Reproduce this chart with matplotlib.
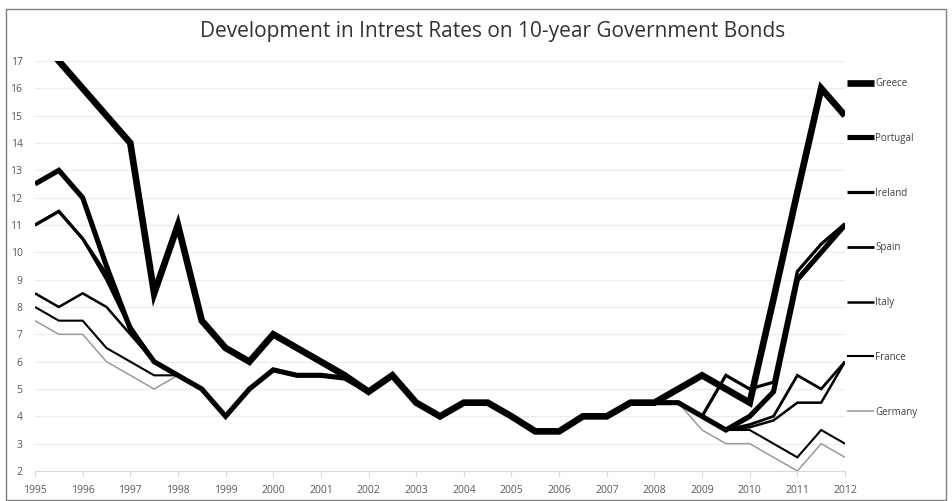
import matplotlib
matplotlib.use("Agg")
import matplotlib.pyplot as plt
from matplotlib.patches import Rectangle

# halbjaehrliche Stuetzstellen
years = [1995, 1995.5, 1996, 1996.5, 1997, 1997.5, 1998, 1998.5, 1999, 1999.5,
         2000, 2000.5, 2001, 2001.5, 2002, 2002.5, 2003, 2003.5, 2004, 2004.5,
         2005, 2005.5, 2006, 2006.5, 2007, 2007.5, 2008, 2008.5, 2009, 2009.5,
         2010, 2010.5, 2011, 2011.5, 2012]

greece = [18.0, 17.0, 16.0, 15.0, 14.0, 8.5, 11.0, 7.5, 6.5, 6.0,
          7.0, 6.5, 6.0, 5.5, 4.9, 5.5, 4.5, 4.0, 4.5, 4.5,
          4.0, 3.45, 3.45, 4.0, 4.0, 4.5, 4.5, 5.0, 5.5, 5.0,
          4.5, 8.3, 12.2, 16.0, 15.0]
portugal = [12.5, 13.0, 12.0, 9.5, 7.2, 6.0, 5.5, 5.0, 4.0, 5.0,
            5.7, 5.5, 5.5, 5.4, 4.9, 5.5, 4.5, 4.0, 4.5, 4.5,
            4.0, 3.45, 3.45, 4.0, 4.0, 4.5, 4.5, 4.5, 4.0, 3.5,
            4.0, 4.9, 9.0, 10.0, 11.0]
ireland = [11.0, 11.5, 10.5, 9.2, 7.3, 6.0, 5.5, 5.0, 4.0, 5.0,
           5.7, 5.5, 5.5, 5.4, 4.9, 5.5, 4.5, 4.0, 4.5, 4.5,
           4.0, 3.45, 3.45, 4.0, 4.0, 4.5, 4.5, 4.5, 4.0, 5.5,
           5.0, 5.25, 9.3, 10.3, 11.05]
spain = [11.0, 11.5, 10.5, 9.0, 7.2, 6.0, 5.5, 5.0, 4.0, 5.0,
         5.7, 5.5, 5.5, 5.4, 4.9, 5.5, 4.5, 4.0, 4.5, 4.5,
         4.0, 3.45, 3.45, 4.0, 4.0, 4.5, 4.5, 4.5, 4.0, 3.5,
         3.7, 4.0, 5.5, 5.0, 6.0]
italy = [8.5, 8.0, 8.5, 8.0, 7.0, 6.0, 5.5, 5.0, 4.0, 5.0,
         5.7, 5.5, 5.5, 5.4, 4.9, 5.5, 4.5, 4.0, 4.5, 4.5,
         4.0, 3.45, 3.45, 4.0, 4.0, 4.5, 4.5, 4.5, 4.0, 3.5,
         3.6, 3.85, 4.5, 4.5, 6.0]
france = [8.0, 7.5, 7.5, 6.5, 6.0, 5.5, 5.5, 5.0, 4.0, 5.0,
          5.7, 5.5, 5.5, 5.4, 4.9, 5.5, 4.5, 4.0, 4.5, 4.5,
          4.0, 3.45, 3.45, 4.0, 4.0, 4.5, 4.5, 4.5, 4.0, 3.5,
          3.5, 3.0, 2.5, 3.5, 3.0]
germany = [7.5, 7.0, 7.0, 6.0, 5.5, 5.0, 5.5, 5.0, 4.0, 5.0,
           5.7, 5.5, 5.5, 5.4, 4.9, 5.5, 4.5, 4.0, 4.5, 4.5,
           4.0, 3.45, 3.45, 4.0, 4.0, 4.5, 4.5, 4.5, 3.5, 3.0,
           3.0, 2.5, 2.0, 3.0, 2.5]

year_ticks = list(range(1995, 2013))
rate_ticks = list(range(2, 18))

plt.rcParams["font.family"] = ["Open Sans", "DejaVu Sans"]

fig = plt.figure(figsize=(9.53, 5.01), dpi=100)
ax = fig.add_axes([35 / 953, 1 - 471 / 501, 810 / 953, 410 / 501])

# Reihenfolge: duenne zuerst, dicke oben drauf
serien = [
    ("Germany", germany, "#999999", 1.1),
    ("France", france, "black", 1.5),
    ("Italy", italy, "black", 1.8),
    ("Spain", spain, "black", 2.0),
    ("Ireland", ireland, "black", 2.3),
    ("Portugal", portugal, "black", 3.7),
    ("Greece", greece, "black", 4.8),
]
handles = {}
for name, werte, farbe, lw in serien:
    (l,) = ax.plot(years, werte, color=farbe, linewidth=lw, label=name,
                   solid_joinstyle="miter", solid_capstyle="butt")
    handles[name] = l

ax.set_xlim(1995, 2012)
ax.set_ylim(2, 17)
ax.set_xticks(year_ticks)
ax.set_yticks(rate_ticks)
ax.grid(True, axis="y", color="#ececec", linewidth=0.8)
ax.set_axisbelow(True)
for s in ["left", "right", "top"]:
    ax.spines[s].set_visible(False)
ax.spines["bottom"].set_color("#d9d9d9")
ax.tick_params(axis="x", colors="#d9d9d9", length=4, labelcolor="#595959",
               labelsize=7.5, pad=6)
ax.tick_params(axis="y", length=0, labelcolor="#595959", labelsize=7.5, pad=9)

reihenfolge = ["Greece", "Portugal", "Ireland", "Spain", "Italy", "France", "Germany"]
leg = ax.legend([handles[n] for n in reihenfolge], reihenfolge,
                loc="upper left", bbox_to_anchor=(847 / 953, 1 - 78 / 501),
                bbox_transform=fig.transFigure, frameon=False, fontsize=7,
                handlelength=2.8, handletextpad=0.1, labelspacing=4.5,
                borderpad=0, borderaxespad=0)
for t in leg.get_texts():
    t.set_color("#404040")

fig.text(493 / 953, 1 - 32 / 501, "Development in Intrest Rates on 10-year Government Bonds",
         ha="center", va="center", fontsize=15, color="#333333")

# Rahmen um das Bild
fig.patches.append(Rectangle((6 / 953, 1 / 501), 940 / 953, 491 / 501,
                             transform=fig.transFigure, fill=False,
                             edgecolor="#7f7f7f", linewidth=1))

fig.savefig("out.png", dpi=100)
